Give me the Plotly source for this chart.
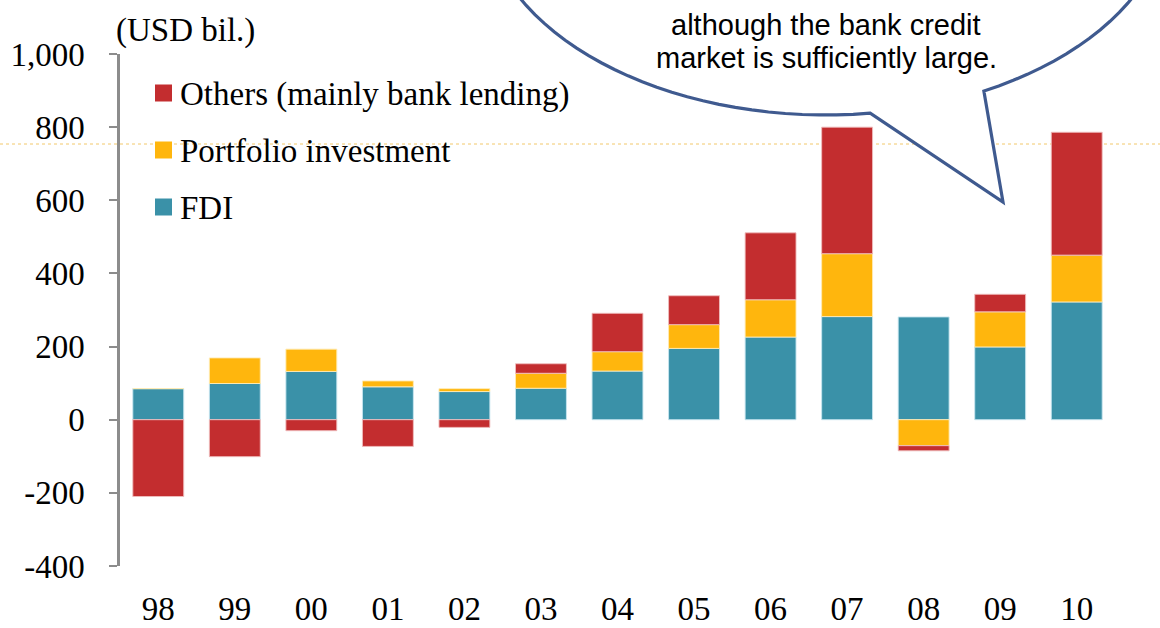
import math
import plotly.graph_objects as go

# ---- data ----
years = ["98", "99", "00", "01", "02", "03", "04", "05", "06", "07", "08", "09", "10"]
fdi = [85, 99, 132, 90, 77, 86, 133, 195, 226, 282, 281, 199, 322]
portfolio = [0, 70, 61, 16, 8, 41, 53, 65, 102, 172, -71, 96, 128]
others = [-210, -101, -30, -73, -21, 26, 105, 79, 183, 346, -14, 48, 336]
series_names = ["FDI", "Portfolio investment", "Others (mainly bank lending)"]
y_ticks = [-400, -200, 0, 200, 400, 600, 800, 1000]
y_tick_labels = ["-400", "-200", "0", "200", "400", "600", "800", "1,000"]
unit_label = "(USD bil.)"
bubble_lines = ["although the bank credit", "market is sufficiently large."]

colors = ["#3A91A8", "#FFB60D", "#C32D2F"]
edges = ["rgba(200,230,240,0.9)", "rgba(255,235,180,0.9)", "rgba(240,190,190,0.9)"]
SERIF = "Liberation Serif"
FS = 33
W, H = 1160, 628
ML, MR, MT, MB = 120, 45, 54, 62
PW, PH = W - ML - MR, H - MT - MB

fig = go.Figure()
for i, (name, vals) in enumerate(zip(series_names, [fdi, portfolio, others])):
    fig.add_trace(go.Bar(
        x=years, y=vals, name=name, showlegend=False,
        marker=dict(color=colors[i], line=dict(color=edges[i], width=1)),
    ))

def px2paper(x, y):
    return (x - ML) / PW, (H - MB - y) / PH

# speech bubble path (pixel geometry -> paper coords)
cx, cy, rx, ry = 826, -100, 344, 215
t0, t1 = 1.442, 1.094 + 2 * math.pi
pts = []
n = 120
for k in range(n + 1):
    t = t0 + (t1 - t0) * k / n
    pts.append((cx + rx * math.cos(t), cy + ry * math.sin(t)))
pts.append((1003, 202))
path = ""
for j, (x, y) in enumerate(pts):
    X, Y = px2paper(x, y)
    path += ("M" if j == 0 else "L") + f"{X:.5f},{Y:.5f} "
path += "Z"

shapes = []
annotations = []
# thin orange guide line across the page
gx0, gy = px2paper(0, 144)
gx1, _ = px2paper(W, 144)
shapes.append(dict(type="line", xref="paper", yref="paper", x0=gx0, x1=gx1, y0=gy, y1=gy,
                   line=dict(color="rgba(240,190,80,0.85)", width=1, dash="dot"), layer="below"))
shapes.append(dict(type="path", xref="paper", yref="paper", path=path,
                   fillcolor="white", line=dict(color="#3F5A8F", width=3.2), layer="above"))

# manual legend (reversed order: Others, Portfolio, FDI)
legend_rows = [93, 150, 207]
for row, idx in zip(legend_rows, [2, 1, 0]):
    x0, y0 = px2paper(155, row - 8.5)
    x1, y1 = px2paper(172, row + 8.5)
    shapes.append(dict(type="rect", xref="paper", yref="paper", x0=x0, x1=x1, y0=y0, y1=y1,
                       fillcolor=colors[idx], line=dict(width=0), layer="above"))
    tx, ty = px2paper(178, row + 1)
    annotations.append(dict(xref="paper", yref="paper", x=tx, y=ty, text=series_names[idx],
                            showarrow=False, xanchor="left", yanchor="middle",
                            font=dict(family=SERIF, size=FS, color="black")))

ux, uy = px2paper(185, 30)
annotations.append(dict(xref="paper", yref="paper", x=ux, y=uy, text=unit_label, showarrow=False,
                        font=dict(family=SERIF, size=FS, color="black"), xanchor="center", yanchor="middle"))
for line, ypix in zip(bubble_lines, [25, 58]):
    bx, by = px2paper(826, ypix)
    annotations.append(dict(xref="paper", yref="paper", x=bx, y=by, text=line, showarrow=False,
                            font=dict(family="Liberation Sans", size=29, color="black"),
                            xanchor="center", yanchor="middle"))

zero_pos = (0 - y_ticks[0]) / (y_ticks[-1] - y_ticks[0])

fig.update_layout(
    width=W, height=H, barmode="relative", bargap=0.335,
    margin=dict(l=ML, r=MR, t=MT, b=MB, autoexpand=False),
    plot_bgcolor="white", paper_bgcolor="white",
    font=dict(family=SERIF, size=FS, color="black"),
    showlegend=False,
    xaxis=dict(type="category", categoryorder="array", categoryarray=years,
               showline=False, ticks="", showgrid=False, zeroline=False, automargin=False,
               tickfont=dict(family=SERIF, size=FS), ticklabelstandoff=20),
    xaxis2=dict(overlaying="x", anchor="free", position=zero_pos, range=[-0.5, len(years) - 0.5],
                showline=True, linecolor="#8C8C8C", linewidth=2.5, automargin=False,
                ticks="outside", ticklen=9, tickwidth=2, tickcolor="#8C8C8C",
                tickvals=[k - 0.5 for k in range(len(years) + 1)],
                showticklabels=False, showgrid=False, zeroline=False),
    yaxis=dict(range=[y_ticks[0], y_ticks[-1]], tickvals=y_ticks, ticktext=y_tick_labels,
               showline=True, linecolor="#8C8C8C", linewidth=2.5, automargin=False,
               ticks="outside", ticklen=8, tickwidth=2, tickcolor="#8C8C8C",
               showgrid=False, zeroline=False, ticklabelstandoff=18,
               tickfont=dict(family=SERIF, size=FS)),
    shapes=shapes, annotations=annotations,
)

fig.write_html("out.html")
